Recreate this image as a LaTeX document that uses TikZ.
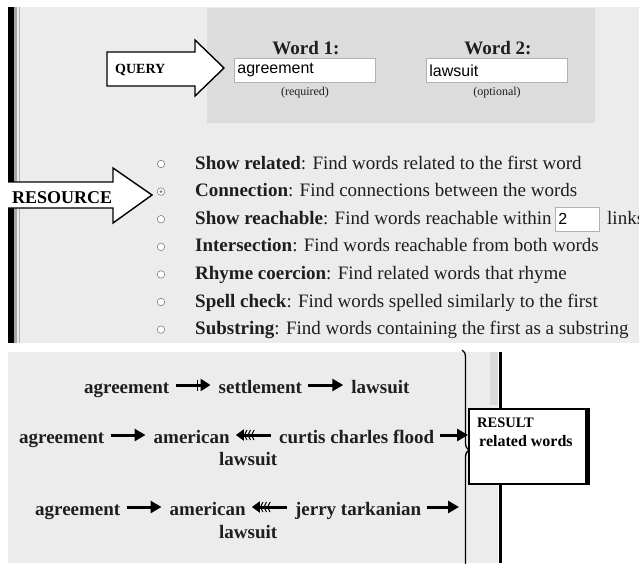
\documentclass[tikz,border=0pt]{standalone}
\usepackage{fontspec}
\setmainfont{Liberation Serif}
\newfontfamily\formfont{Liberation Sans}
\usetikzlibrary{arrows.meta, positioning, decorations.pathreplacing}

\definecolor{panel}{HTML}{ECECEC}
\definecolor{formbox}{HTML}{DCDCDC}
\definecolor{ink}{HTML}{1E1E1E}

\begin{document}
\begin{tikzpicture}[
    x=1pt, y=-1pt,
    node distance=49pt,
    word/.style={font=\fontsize{19}{19}\selectfont\bfseries, inner sep=0pt,
        text height=16pt, text depth=0pt, text=ink},
    option/.style={font=\fontsize{19}{19}\selectfont, inner sep=0pt,
        anchor=base west, text=ink},
    radio/.style={circle, draw=gray, fill=white, line width=0.6pt,
        minimum size=7.5pt, inner sep=0pt},
    field/.style={draw=gray!60, fill=white, line width=0.8pt, anchor=north west,
        inner sep=3pt, minimum height=24pt, align=left,
        font=\formfont\fontsize{16}{16}\selectfont},
    hint/.style={font=\fontsize{12}{12}\selectfont, inner sep=0pt,
        anchor=base, text=ink},
    tag/.style={font=\bfseries, inner sep=0pt, anchor=base west, text=black},
    pointer/.style={draw, fill=white, line width=1.4pt, line join=miter},
    fwd/.style={line width=3pt, -{Triangle[length=11pt, width=12pt]},
        shorten <=6pt, shorten >=8pt},
    fwdbar/.style={line width=3pt,
        -{Bar[width=11pt, line width=1.3pt, sep=2.5pt] Triangle[length=10pt, width=12pt]},
        shorten <=6pt, shorten >=8pt},
    back/.style={line width=3pt,
        {Triangle[length=8pt, width=11pt]
         Straight Barb[length=2.5pt, width=10pt, line width=1pt]
         Straight Barb[length=2.5pt, width=10pt, line width=1pt]
         Straight Barb[length=2.5pt, width=10pt, line width=1pt]}-,
        shorten <=6pt, shorten >=8pt},
]
    \useasboundingbox (0,0) rectangle (639,563);

    % query form
    \fill[panel]   (8,7) rectangle (639,343);
    \fill[formbox] (207,8) rectangle (595,123);
    \fill[black]   (8,7) rectangle (14,343);
    \fill[gray!70] (14,7) rectangle (17,343);
    \draw[gray!60, line width=1pt] (19,7) -- (19,343);

    \node[tag, anchor=base, font=\fontsize{19}{19}\selectfont\bfseries, text=ink] (w1) at (306,54) {Word 1:};
    \node[tag, anchor=base, font=\fontsize{19}{19}\selectfont\bfseries, text=ink] (w2) at (498,54) {Word 2:};
    \node[field, text width=135pt] (word1) at (234,58) {agreement};
    \node[field, text width=135pt] (word2) at (426,58) {lawsuit};
    \node[hint] (req) at (305,95) {(required)};
    \node[hint] (opt) at (497,95) {(optional)};

    \draw[pointer] (107,52) -- (195,52) -- (195,40) -- (224,68) -- (195,96)
        -- (195,86) -- (107,86) -- cycle;
    \node[tag, font=\fontsize{14}{14}\selectfont\bfseries] (query) at (115,73) {QUERY};

    % resources
    \fill[white] (8,182) -- (113,182) -- (113,168) -- (152,195) -- (113,223)
        -- (113,208) -- (8,208) -- cycle;
    \draw[line width=1.4pt, line join=miter] (8,182) -- (113,182) -- (113,168)
        -- (152,195) -- (113,223) -- (113,208) -- (8,208);
    \node[tag, font=\fontsize{18}{18}\selectfont\bfseries] (resource) at (12,203) {RESOURCE};

    \node[radio] (rad1) at (161,164)   {};
    \node[radio] (rad2) at (161,191.6) {};
    \node[radio] (rad3) at (161,219.2) {};
    \node[radio] (rad4) at (161,246.8) {};
    \node[radio] (rad5) at (161,274.4) {};
    \node[radio] (rad6) at (161,302)   {};
    \node[radio] (rad7) at (161,329.6) {};
    \fill[gray] (rad2) circle (1.6pt);

    \node[option] (opt1) at (195,169)   {\textbf{Show related}: Find words related to the first word};
    \node[option] (opt2) at (195,196.6) {\textbf{Connection}: Find connections between the words};
    \node[option] (opt3) at (195,224.2) {\textbf{Show reachable}: Find words reachable within};
    \node[option] (opt4) at (195,251.8) {\textbf{Intersection}: Find words reachable from both words};
    \node[option] (opt5) at (195,279.4) {\textbf{Rhyme coercion}: Find related words that rhyme};
    \node[option] (opt6) at (195,307)   {\textbf{Spell check}: Find words spelled similarly to the first};
    \node[option] (opt7) at (195,334.6) {\textbf{Substring}: Find words containing the first as a substring};
    \node[field, text width=38pt] (hops) at (555,207) {2};
    \node[option] (links) at (607,224.2) {links};

    % results
    \fill[panel]   (8,352) rectangle (498,563);
    \fill[gray!30] (490,352) rectangle (498,405);
    \draw[line width=2.5pt] (500.5,352) -- (500.5,563);

    \coordinate (bracetop) at (462,350);
    \coordinate (bracebot) at (462,570);
    \draw[line width=1.3pt, decorate,
        decoration={brace, amplitude=7pt, aspect=0.455}] (bracetop) -- (bracebot);

    \node[word, anchor=base west] (ag1) at (84,393) {agreement};
    \node[word, base right=of ag1] (se1) {settlement};
    \node[word, base right=of se1] (la1) {lawsuit};

    \node[word, anchor=base west] (ag2) at (19,443) {agreement};
    \node[word, base right=of ag2] (am2) {american};
    \node[word, base right=of am2] (cu2) {curtis charles flood};
    \node[word, anchor=base west] (la2) at (219,465) {lawsuit};

    \node[word, anchor=base west] (ag3) at (35,515) {agreement};
    \node[word, base right=of ag3] (am3) {american};
    \node[word, base right=of am3] (je3) {jerry tarkanian};
    \node[word, anchor=base west] (la3) at (219,538) {lawsuit};

    \node[draw, fill=white, line width=1.5pt, minimum width=117pt,
        minimum height=75pt, anchor=north west, inner sep=0pt] (result) at (468,408) {};
    \draw[line width=3pt] ([xshift=1.5pt]result.north east) -- ([xshift=1.5pt]result.south east);
    \node[tag, font=\fontsize{14.5}{14.5}\selectfont\bfseries] (restitle) at (477,427) {RESULT};
    \node[tag, font=\fontsize{16}{16}\selectfont\bfseries] (reswords) at (479,446) {related words};

    \draw[fwdbar] (ag1) -- (se1);
    \draw[fwd]    (se1) -- (la1);
    \draw[fwd]    (ag2) -- (am2);
    \draw[back]   (am2) -- (cu2);
    \draw[fwd, shorten >=0pt] (cu2.east) -- (cu2.east -| result.west);
    \draw[fwd]    (ag3) -- (am3);
    \draw[back]   (am3) -- (je3);
    \draw[fwd, shorten >=3pt] (je3.east) -- (je3.east -| bracetop);
\end{tikzpicture}
\end{document}
